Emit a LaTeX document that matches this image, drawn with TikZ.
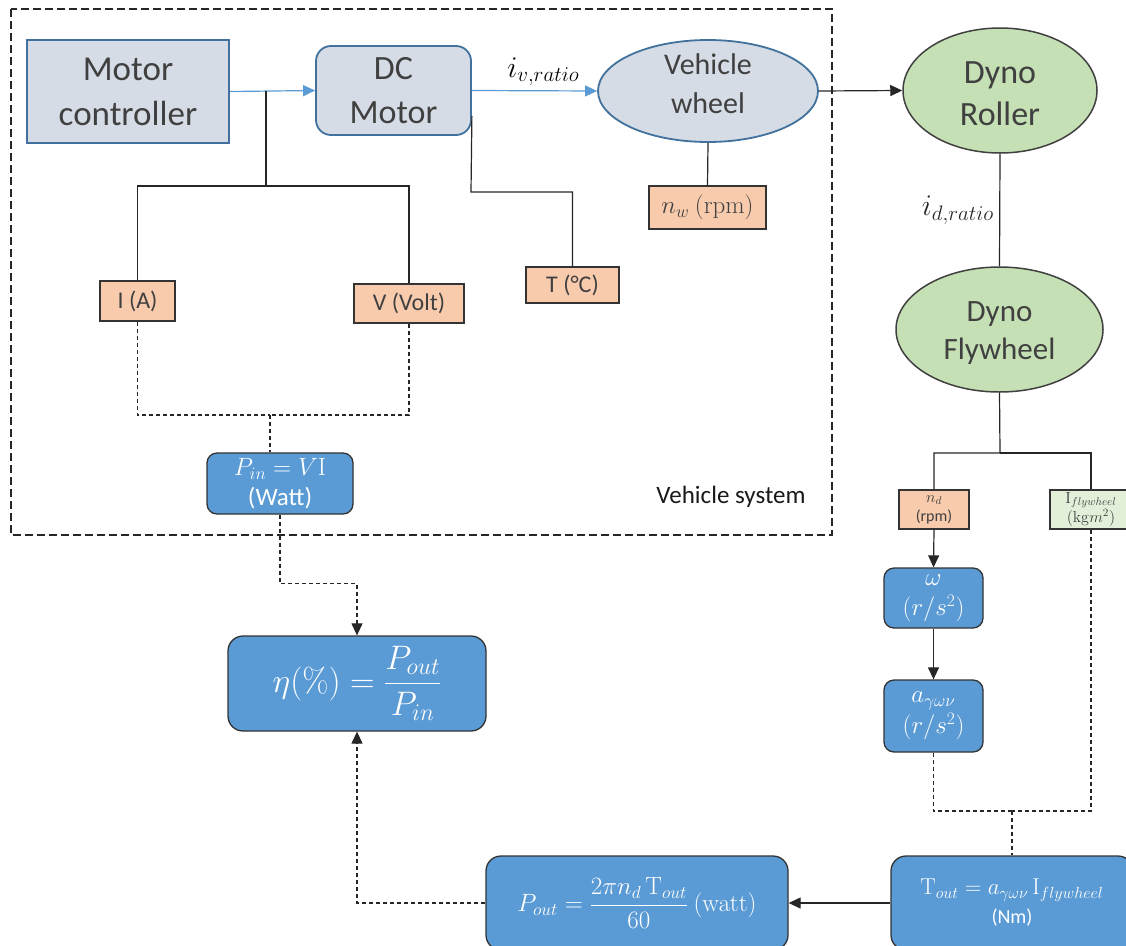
\RequirePackage{fix-cm}
\documentclass[tikz,border=0pt]{standalone}
\usepackage[no-math]{fontspec}
\setmainfont{Carlito}
\usepackage{amsmath}
\usetikzlibrary{arrows.meta,shapes.geometric}

\definecolor{slate}{HTML}{D6DCE5}
\definecolor{slateedge}{HTML}{41719C}
\definecolor{flow}{HTML}{5B9BD5}
\definecolor{peach}{HTML}{F8CBAD}
\definecolor{sage}{HTML}{C5E0B4}
\definecolor{mint}{HTML}{E2F0D9}
\definecolor{ink}{HTML}{404040}

\begin{document}
\begin{tikzpicture}[
    x=1pt, y=-1pt,
    unit/.style={draw=slateedge, line width=1.8pt, fill=slate, text=ink, align=center, inner sep=0pt},
    dyno/.style={ellipse, draw=black!75, line width=1.5pt, fill=sage, inner sep=0pt},
    bigtext/.style={text=ink, align=center, inner sep=0pt},
    sensor/.style={draw=black!80, line width=1.3pt, fill=peach, text=ink, align=center, inner sep=0pt, font=\fontsize{24}{30}\selectfont},
    calcbox/.style={draw=black!80, line width=1.3pt, fill=flow, text=white, rounded corners=10pt, align=center, inner sep=0pt},
    wire/.style={line width=1.2pt, black!85},
    dline/.style={wire, dash pattern=on 4pt off 3pt},
    link/.style={wire, -{Triangle[length=12pt,width=11pt]}},
    flowlink/.style={line width=1.2pt, flow, -{Triangle[length=12pt,width=11pt]}}
  ]
  \useasboundingbox (0,0) rectangle (1126,945);

  % Vehicle system boundary
  \draw[line width=1.2pt, black!85, dash pattern=on 8pt off 4pt] (11,9) rectangle (832,535);
  \node[font=\fontsize{25}{30}\selectfont, text=black!90] (vsys) at (731,497) {Vehicle system};

  % Drive train
  \node[unit, minimum width=202pt, minimum height=103pt, font=\fontsize{35}{45}\selectfont] (ctrl) at (128,91.5) {Motor\\controller};
  \node[unit, rounded corners=15pt, minimum width=155pt, minimum height=89pt, font=\fontsize{34}{44}\selectfont] (dcm) at (393.5,90.5) {DC\\Motor};
  \node[unit, ellipse, minimum width=220pt, minimum height=102pt,
        label={[bigtext, yshift=7pt, font=\fontsize{30}{39}\selectfont]center:Vehicle\\wheel}] (wheel) at (708,91) {};
  \node[dyno, minimum width=194pt, minimum height=125pt,
        label={[bigtext, yshift=-3pt, font=\fontsize{34}{42}\selectfont]center:Dyno\\Roller}] (roller) at (1000,90.5) {};
  \node[dyno, minimum width=207pt, minimum height=125pt,
        label={[bigtext, yshift=-4pt, font=\fontsize{31}{38}\selectfont]center:Dyno\\Flywheel}] (flywheel) at (999.5,329.5) {};

  % Measured quantities
  \node[sensor, minimum width=75pt, minimum height=40pt] (cI) at (137.5,301) {I (A)};
  \node[sensor, minimum width=110pt, minimum height=39pt] (cV) at (409,303.5) {V (Volt)};
  \node[sensor, minimum width=93pt, minimum height=36pt] (cT) at (572.5,285) {T (°C)};
  \node[sensor, minimum width=117pt, minimum height=43pt, font=\fontsize{25}{30}\selectfont] (nw) at (707.5,207.5) {$n_w\ (\mathrm{rpm})$};
  \node[sensor, minimum width=70pt, minimum height=39pt, font=\fontsize{16}{19}\selectfont] (nd) at (934,509.5) {$n_d$\\(rpm)};
  \node[sensor, fill=mint, minimum width=82pt, minimum height=39pt, font=\fontsize{16}{19}\selectfont] (Ifly) at (1091,509.5) {$\mathrm{I}_{flywheel}$\\$(\mathrm{kg}m^2)$};

  % Calculations
  \node[calcbox, minimum width=146pt, minimum height=61pt, font=\fontsize{25}{30}\selectfont] (pin) at (280,483.5) {$P_{in} = V\mathrm{I}$\\(Watt)};
  \node[calcbox, rounded corners=15pt, minimum width=258pt, minimum height=95pt, font=\fontsize{34}{40}\selectfont] (eta) at (357,683.5) {$\eta(\%) = \dfrac{P_{out}}{P_{in}}$};
  \node[calcbox, minimum width=99pt, minimum height=60pt, font=\fontsize{25}{30}\selectfont] (omega) at (933.5,598) {$\omega$\\$(r/s^2)$};
  \node[calcbox, minimum width=99pt, minimum height=72pt, font=\fontsize{25}{31}\selectfont] (acc) at (933.5,716) {$a_{\gamma\omega\nu}$\\$(r/s^2)$};
  \node[calcbox, rounded corners=15pt, minimum width=242pt, minimum height=94pt, font=\fontsize{23}{29}\selectfont] (tout) at (1012,903) {$\mathrm{T}_{out} = a_{\gamma\omega\nu}\,\mathrm{I}_{flywheel}$\\{\fontsize{20}{24}\selectfont(Nm)}};
  \node[calcbox, rounded corners=15pt, minimum width=302pt, minimum height=94pt, font=\fontsize{25}{30}\selectfont] (pout) at (637,903) {$P_{out} = \dfrac{2\pi n_d\,\mathrm{T}_{out}}{60}\ (\mathrm{watt})$};

  % Junction points
  \coordinate (j1) at (266,91);
  \coordinate (jI) at (266,186);
  \coordinate (jT) at (471,192);
  \coordinate (jP) at (270,415);
  \coordinate (jF) at (1000,453);
  \coordinate (jA) at (1012,811);

  % Power flow
  \draw[flowlink] (ctrl.east) -- (dcm.west);
  \draw[flowlink] (dcm.east) -- node[pos=0.57, above=1pt, text=black, font=\fontsize{30}{34}\selectfont] {$i_{v,ratio}$} (wheel.west);
  \draw[link] (wheel.east) -- (roller.west);
  \draw[wire] (roller.south) -- node[midway, left=2pt, font=\fontsize{30}{34}\selectfont] {$i_{d,ratio}$} (flywheel.north);

  % Sensor wiring
  \draw[wire] (j1) -- (jI) -| (cI.north);
  \draw[wire] (jI) -| (cV.north);
  \draw[wire] ([yshift=-25.5pt]dcm.east) -- (jT) -| (cT.north);
  \draw[wire] (wheel.south) -- (nw.north);
  \draw[wire] (flywheel.south) -- (jF) -| (nd.north);
  \draw[wire] (jF) -| (Ifly.north);

  % Input power
  \draw[dline] (cI.south) |- (jP);
  \draw[dline] (cV.south) |- (jP);
  \draw[dline] (jP) -- (jP |- pin.north);
  \draw[dline, -{Triangle[length=12pt,width=11pt]}] (pin.south) -- ++(0,69) -| (eta.north);

  % Output power
  \draw[link] (nd.south) -- (omega.north);
  \draw[link] (omega.south) -- (acc.north);
  \draw[dline] (acc.south) |- (jA);
  \draw[dline] (Ifly.south) |- (jA);
  \draw[dline] (jA) -- (tout.north);
  \draw[link] (tout.west) -- (pout.east);
  \draw[dline, -{Triangle[length=12pt,width=11pt]}] (pout.west) -| (eta.south);

\end{tikzpicture}
\end{document}
